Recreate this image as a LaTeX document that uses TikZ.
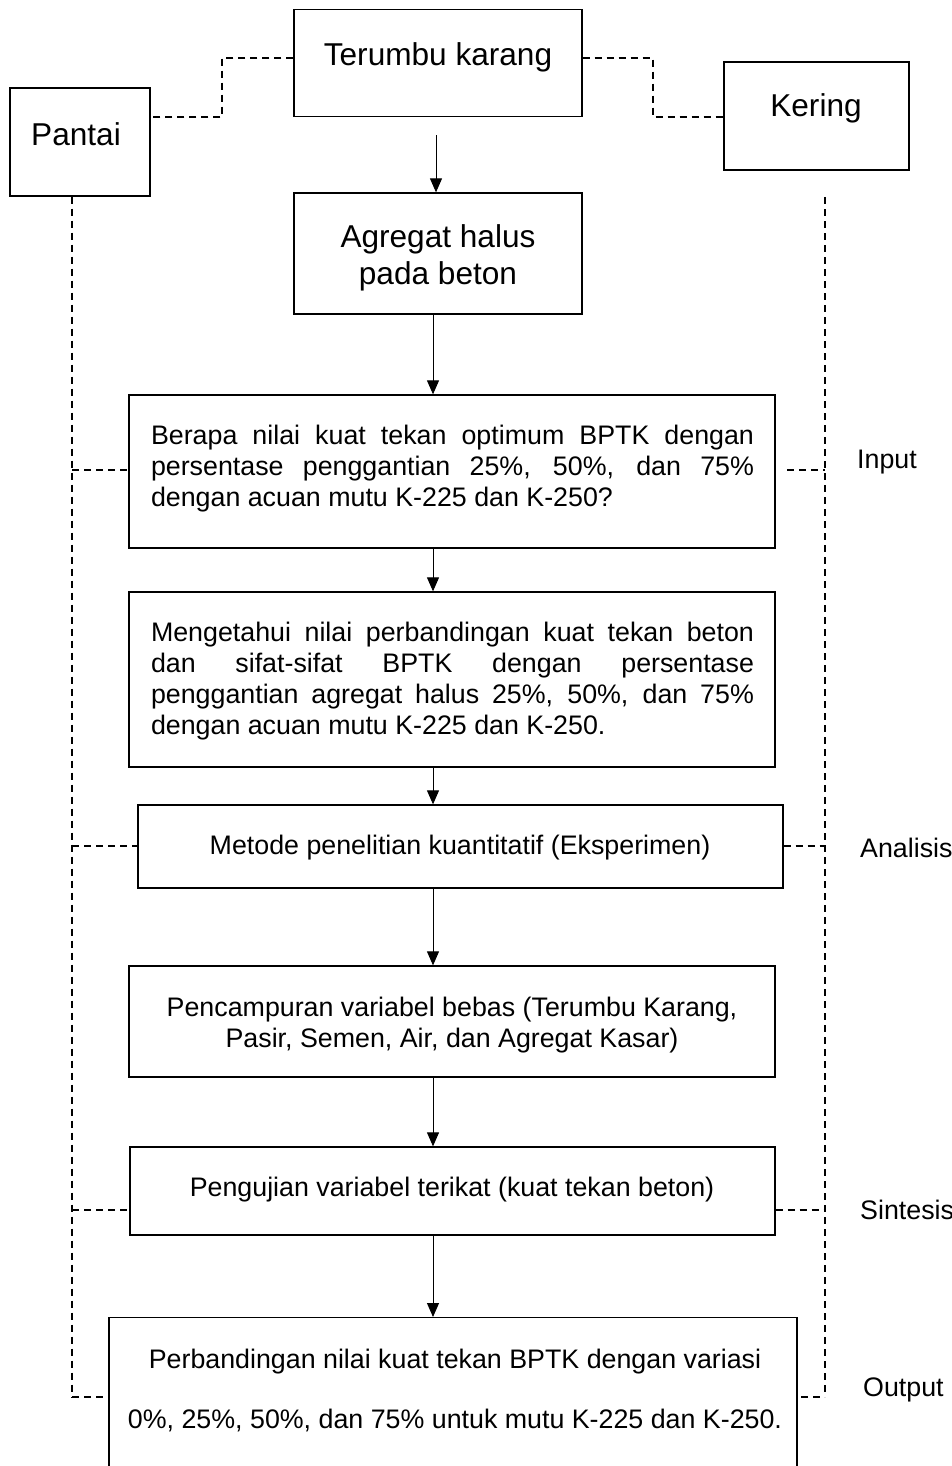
\documentclass[tikz,border=0pt]{standalone}
\usepackage{fontspec}
\setmainfont{Liberation Sans}
\usetikzlibrary{arrows.meta}
\hyphenpenalty=10000
\exhyphenpenalty=10000
\begin{document}
\begin{tikzpicture}[x=1pt,y=-1pt,
  box/.style={draw, line width=1.3pt, inner sep=0pt},
  ttl/.style={inner sep=0pt, font=\fontsize{31.6}{37}\selectfont, align=center},
  body/.style={inner sep=0pt, font=\fontsize{26.8}{31}\selectfont},
  jbody/.style={body, text width=603pt, align=justify},
  lbl/.style={inner sep=0pt, anchor=west, font=\fontsize{26.8}{31}\selectfont},
  arr/.style={line width=1pt, -{Triangle[length=14pt,width=12pt]}},
  dsh/.style={line width=1.4pt, dash pattern=on 7pt off 5pt}]
\useasboundingbox (0,0) rectangle (952,1466);
\clip (0,0) rectangle (952,1466);
\fill[white] (0,0) rectangle (952,1466);
% boxes
\node[box, minimum width=288, minimum height=107] (ter) at (438,63) {};
\node[ttl] (tert) at (438,57) {Terumbu karang};
\node[box, minimum width=140, minimum height=108] (pan) at (80,142) {};
\node[ttl] (pant) at (76,134) {Pantai};
\node[box, minimum width=185, minimum height=108] (ker) at (816.5,116) {};
\node[ttl] (kert) at (816,108) {Kering};
\node[box, minimum width=288, minimum height=121] (agr) at (438,253.5) {};
\node[ttl] (agrt) at (438,258) {Agregat halus\\pada beton};
\node[box, minimum width=646, minimum height=153] (ber) at (452,471.5) {};
\node[jbody] (bert) at (452.5,469) {Berapa nilai kuat tekan optimum BPTK dengan\linebreak persentase penggantian 25\%, 50\%, dan 75\%\linebreak dengan acuan mutu K-225 dan K-250?};
\node[box, minimum width=646, minimum height=175] (men) at (452,679.5) {};
\node[jbody] (ment) at (452.5,681) {Mengetahui nilai perbandingan kuat tekan beton\linebreak dan sifat-sifat BPTK dengan persentase\linebreak penggantian agregat halus 25\%, 50\%, dan 75\%\linebreak dengan acuan mutu K-225 dan K-250.};
\node[box, minimum width=645, minimum height=83] (met) at (460.5,846.5) {};
\node[body] (mett) at (460,848) {Metode penelitian kuantitatif (Eksperimen)};
\node[box, minimum width=646, minimum height=111] (pen) at (452,1021.5) {};
\node[body, align=center] (pent) at (452,1025) {Pencampuran variabel bebas (Terumbu Karang,\\Pasir, Semen, Air, dan Agregat Kasar)};
\node[box, minimum width=645, minimum height=88] (uji) at (452.5,1191) {};
\node[body] (ujit) at (452,1190) {Pengujian variabel terikat (kuat tekan beton)};
\node[box, minimum width=688, minimum height=220, anchor=north] (per) at (453,1317) {};
\node[body, align=center, font=\fontsize{26.8}{60}\selectfont] (pert) at (455,1390) {Perbandingan nilai kuat tekan BPTK dengan variasi\\0\%, 25\%, 50\%, dan 75\% untuk mutu K-225 dan K-250.};
% labels
\node[lbl] (inp) at (857,462) {Input};
\node[lbl] (ana) at (860,848) {Analisis};
\node[lbl] (sin) at (860,1210) {Sintesis};
\node[lbl] (out) at (863,1390) {Output};
% arrows
\coordinate (a1) at (436,0);
\coordinate (ax) at (433,0);
\draw[arr] ([yshift=-18pt]ter.south -| a1) -- (agr.north -| a1);
\draw[arr] (agr.south -| ax) -- (ber.north -| ax);
\draw[arr] (ber.south -| ax) -- (men.north -| ax);
\draw[arr] (men.south -| ax) -- (met.north -| ax);
\draw[arr] (met.south -| ax) -- (pen.north -| ax);
\draw[arr] (pen.south -| ax) -- (uji.north -| ax);
\draw[arr] (uji.south -| ax) -- (per.north -| ax);
% dashed connectors top
\coordinate (tl) at (222,58);
\coordinate (bl) at (222,117);
\coordinate (tr) at (653,58);
\coordinate (br) at (653,117);
\draw[dsh] (ter.west |- tl) -- (tl) -- (bl) -- (pan.east |- bl);
\draw[dsh] (ter.east |- tr) -- (tr) -- (br) -- (ker.west |- br);
% vertical dashed rails
\coordinate (lx) at (72,0);
\coordinate (rx) at (825,0);
\coordinate (rs) at (825,197);
\coordinate (ye) at (0,1397);
\draw[dsh] (pan.south -| lx) -- (lx |- ye);
\draw[dsh] (rs) -- (rx |- ye);
% horizontal dashed ties
\coordinate (yi) at (0,470);
\coordinate (ya) at (0,846);
\coordinate (ys) at (0,1210);
\draw[dsh] (lx |- yi) -- (ber.west |- yi);
\draw[dsh] (787,470) -- (rx |- yi);
\draw[dsh] (lx |- ya) -- (met.west |- ya);
\draw[dsh] (met.east |- ya) -- (rx |- ya);
\draw[dsh] (lx |- ys) -- (uji.west |- ys);
\draw[dsh] (uji.east |- ys) -- (rx |- ys);
\draw[dsh] (lx |- ye) -- (per.west |- ye);
\draw[dsh] (801,1397) -- (rx |- ye);
\end{tikzpicture}
\end{document}
